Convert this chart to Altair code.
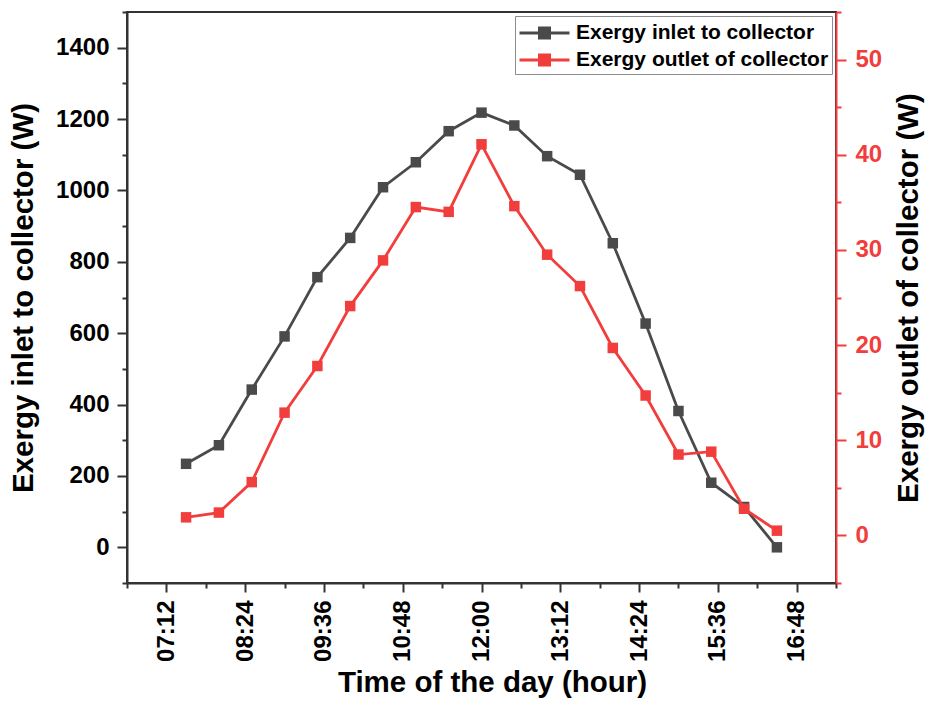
import altair as alt
import pandas as pd

# Half-hourly readings through the day
times = ["07:30", "08:00", "08:30", "09:00", "09:30", "10:00", "10:30",
         "11:00", "11:30", "12:00", "12:30", "13:00", "13:30", "14:00",
         "14:30", "15:00", "15:30", "16:00", "16:30"]
exergy_inlet = [234, 286, 442, 591, 757, 867, 1009, 1079, 1166, 1218,
                1182, 1096, 1044, 852, 627, 382, 181, 113, 0]
exergy_outlet = [1.9, 2.4, 5.6, 12.9, 17.8, 24.1, 28.9, 34.5, 34.0, 41.1,
                 34.6, 29.5, 26.2, 19.7, 14.7, 8.5, 8.8, 2.8, 0.5]

series_names = ["Exergy inlet to collector", "Exergy outlet of collector"]
series_colors = ["#4a4a4a", "#f23d3d"]

# x axis: minutes since midnight, ticks every 36 min, labels every 72 min
x_domain = [396, 1044]
x_ticks = list(range(396, 1045, 36))
left_ticks = list(range(-100, 1501, 100))
right_ticks = list(range(-5, 56, 5))


def to_minutes(t):
    h, m = t.split(":")
    return int(h) * 60 + int(m)


mins = [to_minutes(t) for t in times]
df = pd.DataFrame({
    "minute": mins * 2,
    "value": exergy_inlet + exergy_outlet,
    "series": [series_names[0]] * len(mins) + [series_names[1]] * len(mins),
})

FONT = "Liberation Sans"
DARK = "#333333"
RED = series_colors[1]

color_scale = alt.Scale(domain=series_names, range=series_colors)

# legend glyph: a short line with a square marker in its middle
legend_symbol = "M-1,0H3M0.6,-0.4H1.4V0.4H0.6Z"

x_enc = alt.X(
    "minute:Q",
    scale=alt.Scale(domain=x_domain, nice=False, zero=False),
    axis=alt.Axis(
        title="Time of the day (hour)",
        values=x_ticks,
        labelExpr="datum.value % 72 == 0 ? pad(floor(datum.value / 60), 2, '0', 'left') + ':' + pad(datum.value % 60, 2, '0', 'left') : ''",
        labelAngle=270,
        labelOverlap=False,
        labelFlush=False,
        labelPadding=8,
        tickSize={"condition": {"test": "datum.value % 72 == 0", "value": 9}, "value": 5},
        titlePadding=7,
        titleX=365,
    ),
)

line_style = dict(strokeWidth=2.8)
point_style = alt.OverlayMarkDef(shape="square", size=110, filled=True, opacity=1)

inlet = alt.Chart(df).transform_filter(
    alt.datum.series == series_names[0]
).mark_line(point=point_style, **line_style).encode(
    x=x_enc,
    y=alt.Y(
        "value:Q",
        scale=alt.Scale(domain=[-100, 1500], nice=False, zero=False),
        axis=alt.Axis(
            title="Exergy inlet to collector (W)",
            orient="left",
            values=left_ticks,
            format="d",
            labelExpr="datum.value % 200 == 0 ? datum.label : ''",
            tickSize={"condition": {"test": "datum.value % 200 == 0", "value": 10}, "value": 5},
            labelOverlap=False,
            labelPadding=8,
            titlePadding=17,
        ),
    ),
    color=alt.Color(
        "series:N",
        scale=color_scale,
        legend=alt.Legend(
            title=None,
            orient="top-right",
            offset=4,
            padding=3,
            fillColor="white",
            strokeColor="#8c8c8c",
            labelFont=FONT,
            labelFontSize=21,
            labelFontWeight="bold",
            labelColor="black",
            labelOffset=30,
            labelLimit=400,
            rowPadding=2,
            symbolType=legend_symbol,
            symbolSize=625,
            symbolStrokeWidth=3,
        ),
    ),
)

outlet = alt.Chart(df).transform_filter(
    alt.datum.series == series_names[1]
).mark_line(point=point_style, **line_style).encode(
    x=x_enc,
    y=alt.Y(
        "value:Q",
        scale=alt.Scale(domain=[-5, 55], nice=False, zero=False),
        axis=alt.Axis(
            title="Exergy outlet of collector (W)",
            orient="right",
            values=right_ticks,
            format="d",
            labelExpr="datum.value % 10 == 0 ? datum.label : ''",
            tickSize={"condition": {"test": "datum.value % 10 == 0", "value": 10}, "value": 5},
            labelOverlap=False,
            labelPadding=9,
            domainColor=RED,
            tickColor=RED,
            labelColor=RED,
            titleColor="black",
            titleAngle=270,
            titlePadding=42,
        ),
    ),
    color=alt.Color("series:N", scale=color_scale),
)

chart = alt.layer(inlet, outlet).resolve_scale(
    y="independent"
).properties(
    width=709,
    height=571,
    padding={"left": 127, "top": 12, "right": 94, "bottom": 120},
    autosize=alt.AutoSizeParams(type="none"),
    background="white",
).configure_view(
    stroke=DARK,
    strokeWidth=2,
).configure_axis(
    grid=False,
    domainColor=DARK,
    domainWidth=2,
    tickColor=DARK,
    tickWidth=2,
    labelFont=FONT,
    labelFontSize=24,
    labelFontWeight="bold",
    labelColor="black",
    titleFont=FONT,
    titleFontSize=29.5,
    titleFontWeight="bold",
    titleColor="black",
)

chart.save("out.html", embed_options={"renderer": "svg", "actions": False})
